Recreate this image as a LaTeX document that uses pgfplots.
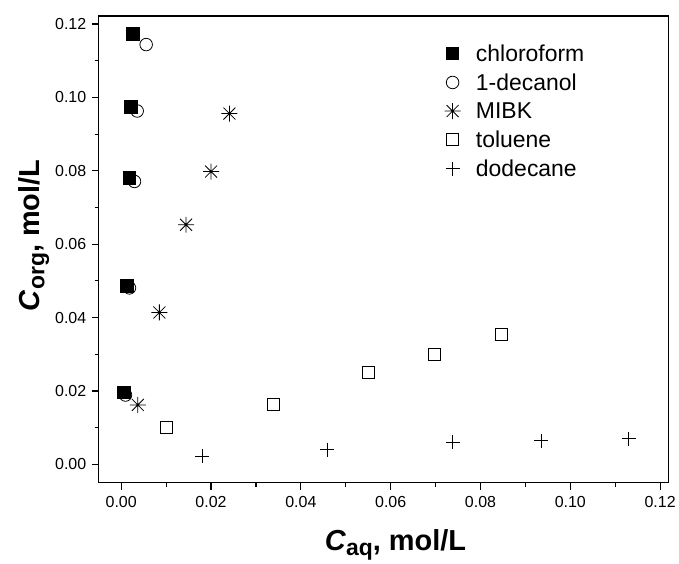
\documentclass[border=0pt]{standalone}
\usepackage{fontspec}
\setmainfont{Liberation Sans}
\usepackage{pgfplots}
\pgfplotsset{compat=1.18}
\usetikzlibrary{plotmarks}

% eight-spoke star: a plus overlaid with a cross
\pgfdeclareplotmark{spoke8}{%
  \pgfpathmoveto{\pgfqpoint{0pt}{\pgfplotmarksize}}%
  \pgfpathlineto{\pgfqpoint{0pt}{-\pgfplotmarksize}}%
  \pgfpathmoveto{\pgfqpoint{\pgfplotmarksize}{0pt}}%
  \pgfpathlineto{\pgfqpoint{-\pgfplotmarksize}{0pt}}%
  \pgfpathmoveto{\pgfqpoint{0.75\pgfplotmarksize}{0.75\pgfplotmarksize}}%
  \pgfpathlineto{\pgfqpoint{-0.75\pgfplotmarksize}{-0.75\pgfplotmarksize}}%
  \pgfpathmoveto{\pgfqpoint{-0.75\pgfplotmarksize}{0.75\pgfplotmarksize}}%
  \pgfpathlineto{\pgfqpoint{0.75\pgfplotmarksize}{-0.75\pgfplotmarksize}}%
  \pgfusepathqstroke}

% subscript for the axis titles
\newcommand{\sub}[1]{\raisebox{-0.32ex}{\fontsize{23}{23}\selectfont #1}}

\begin{document}
\begin{tikzpicture}
\begin{axis}[
  scale only axis,
  width=571pt, height=468pt,
  xmin=-0.005, xmax=0.1218,
  ymin=-0.005, ymax=0.1222,
  xtick={0,0.02,...,0.12},
  ytick={0,0.02,...,0.12},
  minor tick num=1,
  tick align=outside,
  xtick pos=bottom, ytick pos=left,
  major tick length=7pt, minor tick length=4pt,
  axis line style={line width=1.3pt},
  every tick/.style={line width=1.2pt, black},
  /pgf/number format/assume math mode=true,
  /pgf/number format/fixed,
  /pgf/number format/fixed zerofill,
  /pgf/number format/precision=2,
  tick label style={font=\fontsize{16}{19}\selectfont},
  xticklabel style={yshift=-3pt},
  yticklabel style={xshift=-2pt},
  xlabel={\textbf{\textit{C}\sub{aq}, mol/L}},
  ylabel={\textbf{\textit{C}\sub{org}, mol/L}},
  label style={font=\bfseries\fontsize{29}{33}\selectfont},
  xlabel style={yshift=-15pt, xshift=12pt},
  ylabel style={yshift=-1pt, xshift=14pt},
  legend style={
    at={(0.6,0.948)}, anchor=north west,
    draw=none, fill=none,
    font=\fontsize{23}{28}\selectfont,
    row sep=6.9pt,
    legend cell align=left,
  },
  legend image code/.code={%
    \draw[#1] plot coordinates {(0.3cm,0cm)};
    \path (0cm,0cm) (0.3cm+21pt,0cm);},
]
% chloroform
\addplot[only marks, mark=square*, mark size=6.3pt, black, line width=0.8pt]
  coordinates {(0.00258,0.1173) (0.0022,0.0974) (0.00184,0.0780) (0.00133,0.0486) (0.00058,0.0196)};
\addlegendentry{chloroform}
% 1-decanol
\addplot[only marks, mark=o, mark size=6.3pt, black, line width=0.8pt]
  coordinates {(0.00556,0.1144) (0.00356,0.0963) (0.00296,0.0771) (0.00184,0.0481) (0.00096,0.0189)};
\addlegendentry{1-decanol}
% MIBK
\addplot[only marks, mark=spoke8, mark size=8pt, black, line width=0.8pt]
  coordinates {(0.0241,0.0956) (0.0200,0.0798) (0.01444,0.0653) (0.0085,0.0414) (0.0037,0.0162)};
\addlegendentry{MIBK}
% toluene
\addplot[only marks, mark=square, mark size=6pt, black, line width=0.9pt]
  coordinates {(0.0100,0.0101) (0.0338,0.0162) (0.0550,0.0251) (0.0698,0.0300) (0.0847,0.0353)};
\addlegendentry{toluene}
% dodecane
\addplot[only marks, mark=+, mark size=7pt, black, line width=0.9pt]
  coordinates {(0.0180,0.0022) (0.0459,0.0040) (0.0738,0.0061) (0.0935,0.0065) (0.1130,0.0070)};
\addlegendentry{dodecane}
\end{axis}
\path (current axis.south west) ++(-99pt,-78pt) (current axis.north east) ++(9pt,16pt);
\end{tikzpicture}
\end{document}
